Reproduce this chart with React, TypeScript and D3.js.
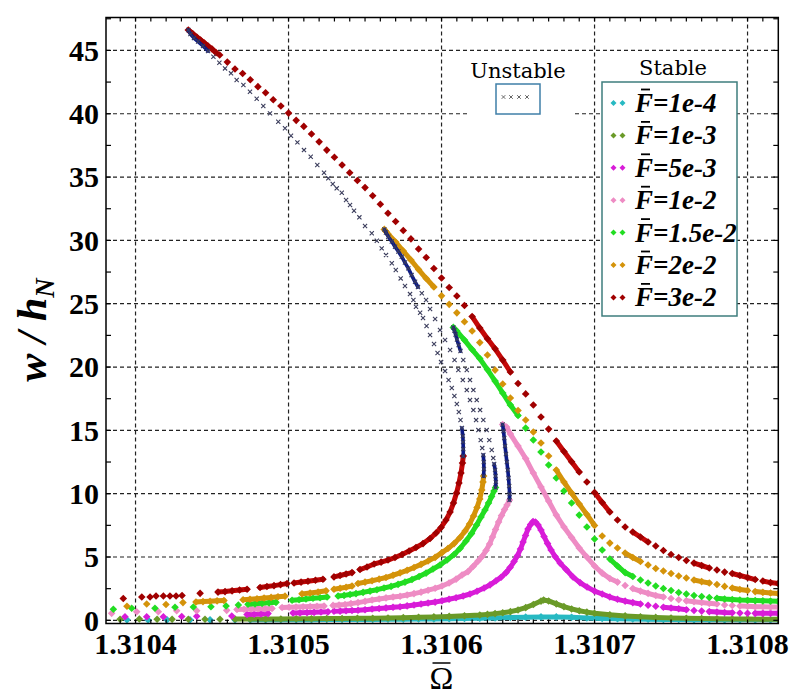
import React from "react";
import * as d3 from "d3";

type Pt = [number, number];

// ---- axis ticks ----
const xTickValues = [1.3104, 1.3105, 1.3106, 1.3107, 1.3108];
const yTickValues = [0, 5, 10, 15, 20, 25, 30, 35, 40, 45];

// ---- forcing levels (legend order) ----
const forceLabels = ["1e-4", "1e-3", "5e-3", "1e-2", "1.5e-2", "2e-2", "3e-2"];
const seriesColors = ["#27b9c2", "#6a9a28", "#d81cd8", "#ee8cc4", "#22dd22", "#d4930a", "#a00000"];

// ---- F = 1e-4 ----
const f01Stable: Pt[] = [
  [1.3103944, 0.04], [1.3104082, 0.03], [1.3104206, 0.04], [1.3104356, 0.04], [1.3104487, 0.04], [1.310465, 0.04],
  [1.310475, 0.04], [1.310485, 0.04], [1.310495, 0.05], [1.310505, 0.05], [1.310515, 0.05], [1.310525, 0.06],
  [1.310535, 0.06], [1.310545, 0.07], [1.310555, 0.07], [1.310565, 0.08], [1.310575, 0.09], [1.310585, 0.1],
  [1.310595, 0.11], [1.310605, 0.12], [1.310615, 0.14], [1.310625, 0.16], [1.310635, 0.19], [1.310645, 0.22],
  [1.310655, 0.25], [1.310665, 0.27], [1.310675, 0.27], [1.310685, 0.24], [1.310695, 0.19], [1.310705, 0.15],
  [1.310715, 0.12], [1.310725, 0.1], [1.310735, 0.08], [1.310745, 0.07], [1.310755, 0.06], [1.310765, 0.05],
  [1.310775, 0.05], [1.310785, 0.04], [1.310795, 0.04], [1.310805, 0.04], [1.310815, 0.04], [1.31082, 0.04],
];
const f01Bands: Pt[] = [[1.310474, 1.310821]];

// ---- F = 1e-3 ----
const f1Stable: Pt[] = [
  [1.3103899, 0.08], [1.3104025, 0.1], [1.3104141, 0.08], [1.3104239, 0.09], [1.3104345, 0.09], [1.3104454, 0.09],
  [1.3104552, 0.09], [1.310465, 0.1], [1.310475, 0.1], [1.310485, 0.11], [1.310495, 0.11], [1.310505, 0.12],
  [1.310515, 0.13], [1.310525, 0.14], [1.310535, 0.15], [1.310545, 0.16], [1.310555, 0.17], [1.310565, 0.19],
  [1.310575, 0.21], [1.310585, 0.24], [1.310595, 0.27], [1.310605, 0.31], [1.310615, 0.36], [1.310625, 0.42],
  [1.31063, 0.47], [1.310635, 0.53], [1.31064, 0.6], [1.310645, 0.69], [1.31065, 0.82], [1.310655, 1.0],
  [1.31066, 1.25], [1.310665, 1.52], [1.3106667, 1.6], [1.31067, 1.53], [1.310675, 1.3], [1.31068, 1.08],
  [1.310685, 0.9], [1.31069, 0.76], [1.310695, 0.65], [1.3107, 0.56], [1.31071, 0.44], [1.31072, 0.35],
  [1.31073, 0.28], [1.31074, 0.23], [1.31075, 0.19], [1.31076, 0.16], [1.31077, 0.14], [1.31078, 0.12],
  [1.31079, 0.11], [1.3108, 0.1], [1.31081, 0.09], [1.31082, 0.09],
];
const f1Bands: Pt[] = [[1.310464, 1.310821]];

// ---- F = 5e-3 ----
const f5Stable: Pt[] = [
  [1.3103931, 0.28], [1.3104073, 0.28], [1.3104182, 0.28], [1.3104302, 0.3], [1.31044, 0.32], [1.3104629, 0.34],
  [1.3104729, 0.46], [1.3104775, 0.48], [1.310482, 0.5], [1.3104866, 0.53],
  [1.3105029, 0.58], [1.3105075, 0.59], [1.3105121, 0.61], [1.3105167, 0.63], [1.3105212, 0.66], [1.3105258, 0.67],
  [1.3105297, 0.72], [1.3105337, 0.73], [1.3105376, 0.76], [1.3105415, 0.78],
  [1.3105454, 0.8], [1.31055, 0.84], [1.3105546, 0.89], [1.3105592, 0.94], [1.3105637, 0.98], [1.3105683, 1.03],
  [1.3105729, 1.07], [1.3105775, 1.14], [1.310582, 1.21], [1.3105866, 1.29], [1.3105912, 1.37], [1.3105958, 1.44],
  [1.3106003, 1.55], [1.3106049, 1.67], [1.3106095, 1.78], [1.3106141, 1.92], [1.3106186, 2.08], [1.3106232, 2.3],
  [1.3106278, 2.55], [1.3106317, 2.8], [1.3106356, 3.12], [1.3106389, 3.4], [1.3106422, 3.77], [1.3106448, 4.17],
  [1.3106474, 4.64], [1.3106497, 5.12], [1.3106516, 5.63], [1.3106533, 6.18], [1.3106549, 6.7], [1.3106565, 7.21],
  [1.3106582, 7.56], [1.3106598, 7.8], [1.3106614, 7.76], [1.3106631, 7.52], [1.310665, 7.13], [1.310667, 6.62],
  [1.3106693, 6.06], [1.3106716, 5.55], [1.3106742, 5.04], [1.3106775, 4.52], [1.3106814, 4.01], [1.3106859, 3.42],
  [1.3106905, 2.98], [1.3106951, 2.63], [1.3107, 2.31], [1.310705, 2.08], [1.31071, 1.84], [1.310715, 1.66],
  [1.31072, 1.52], [1.310725, 1.4], [1.31073, 1.29], [1.310735, 1.19], [1.31074, 1.11], [1.310745, 1.03],
  [1.31075, 0.97], [1.310755, 0.91], [1.31076, 0.84], [1.310765, 0.78], [1.31077, 0.73], [1.310775, 0.69],
  [1.31078, 0.66], [1.310785, 0.62], [1.31079, 0.6], [1.310795, 0.58], [1.3108, 0.56], [1.310805, 0.55],
  [1.31081, 0.55], [1.310815, 0.55], [1.31082, 0.55],
];
const f5Bands: Pt[] = [[1.3104725, 1.310487], [1.3105025, 1.310526], [1.3105295, 1.310731], [1.310744, 1.310761], [1.310774, 1.310791], [1.310804, 1.310821]];

// ---- F = 1e-2 ----
const f10Upper: Pt[] = [
  [1.3106399, 15.46], [1.3106425, 15.26], [1.310645, 14.71], [1.31065, 13.76], [1.310655, 12.78], [1.31066, 11.63],
  [1.310665, 10.53], [1.31067, 9.42], [1.310675, 8.31], [1.31068, 7.37], [1.310685, 6.54], [1.31069, 5.71],
  [1.310695, 5.0], [1.3107, 4.29], [1.310705, 3.73], [1.31071, 3.3], [1.310715, 3.02], [1.31072, 2.75],
  [1.310725, 2.51], [1.31073, 2.31], [1.310735, 2.13], [1.31074, 1.96], [1.310745, 1.84], [1.31075, 1.72],
  [1.310755, 1.62], [1.31076, 1.54], [1.310765, 1.47], [1.31077, 1.41], [1.310775, 1.34], [1.31078, 1.29],
  [1.310785, 1.22], [1.31079, 1.17], [1.310795, 1.13], [1.3108, 1.11], [1.310805, 1.08], [1.31081, 1.07],
  [1.310815, 1.05], [1.31082, 1.05],
];
const f10UpperBands: Pt[] = [[1.310639, 1.310716], [1.310724, 1.310746], [1.310759, 1.310781], [1.310794, 1.310821]];
const f10Lower: Pt[] = [
  [1.3103844, 0.55], [1.3104008, 0.68], [1.3104149, 0.68], [1.3104269, 0.76], [1.31044, 0.76], [1.3104596, 0.79],
  [1.3104663, 0.85], [1.3104709, 0.87], [1.3104755, 0.89], [1.3104801, 0.91], [1.3104846, 0.92], [1.3104892, 0.94],
  [1.3104958, 1.01], [1.3105003, 1.03], [1.3105049, 1.05], [1.3105095, 1.07], [1.3105141, 1.09], [1.3105186, 1.11],
  [1.3105232, 1.13], [1.3105291, 1.18], [1.310533, 1.21], [1.3105369, 1.25], [1.3105408, 1.32],
  [1.3105454, 1.4], [1.31055, 1.5], [1.3105546, 1.6], [1.3105592, 1.69], [1.3105637, 1.77], [1.3105683, 1.84],
  [1.3105729, 1.9], [1.3105775, 2.0], [1.310582, 2.11], [1.3105866, 2.23], [1.3105912, 2.38], [1.3105958, 2.53],
  [1.3106003, 2.71], [1.3106049, 2.95], [1.3106095, 3.25], [1.3106134, 3.58], [1.3106173, 3.85], [1.3106206, 4.25],
  [1.3106239, 4.68], [1.3106265, 5.04], [1.3106291, 5.51], [1.3106314, 6.02], [1.3106333, 6.58], [1.3106353, 7.17],
  [1.3106373, 7.76], [1.3106392, 8.27], [1.3106412, 8.75], [1.3106428, 9.1], [1.3106444, 9.5],
];
const f10LowerBands: Pt[] = [[1.310466, 1.3104895], [1.3104955, 1.3105235], [1.3105288, 1.3106445]];
const f10Unstable: Pt[] = [
  [1.3106444, 9.5], [1.3106445, 9.97], [1.3106442, 10.6], [1.3106438, 11.24], [1.3106433, 11.87], [1.3106427, 12.5],
  [1.3106421, 13.13], [1.3106415, 13.76], [1.310641, 14.4], [1.3106405, 14.95], [1.3106399, 15.46],
];
const f10Navy: Pt[] = [[9.4, 15.5]];

// ---- F = 1.5e-2 ----
const f15Upper: Pt[] = [
  [1.3106077, 23.13], [1.31061, 22.84], [1.310615, 22.13], [1.31062, 21.38], [1.310625, 20.67], [1.31063, 19.8],
  [1.310635, 18.89], [1.31064, 17.95], [1.310645, 17.0], [1.31065, 16.17], [1.310655, 15.18], [1.31066, 14.24],
  [1.310665, 13.29], [1.31067, 12.26], [1.310675, 11.24], [1.31068, 10.21], [1.310685, 9.26], [1.31069, 8.31],
  [1.310695, 7.37], [1.3107, 6.42], [1.310705, 5.55], [1.31071, 4.84], [1.310715, 4.29], [1.31072, 3.77],
  [1.310725, 3.46], [1.31073, 3.18], [1.310735, 2.95], [1.31074, 2.71], [1.310745, 2.51], [1.31075, 2.35],
  [1.310755, 2.2], [1.31076, 2.08], [1.310765, 1.96], [1.31077, 1.88], [1.310775, 1.8], [1.31078, 1.74],
  [1.310785, 1.68], [1.31079, 1.64], [1.310795, 1.6], [1.3108, 1.58], [1.310805, 1.56], [1.31081, 1.54],
  [1.310815, 1.52], [1.31082, 1.51],
];
const f15UpperBands: Pt[] = [[1.310607, 1.310651], [1.310709, 1.310726], [1.310779, 1.310821]];
const f15Lower: Pt[] = [
  [1.3103855, 0.87], [1.3103975, 0.95], [1.3104127, 0.95], [1.3104258, 1.03], [1.3104378, 1.05], [1.3104493, 1.07],
  [1.3104592, 1.13], [1.3104672, 1.21], [1.3104735, 1.27], [1.3104781, 1.3], [1.3104827, 1.34], [1.3104873, 1.38],
  [1.3104918, 1.42], [1.3105023, 1.58], [1.3105069, 1.63], [1.3105114, 1.68], [1.310516, 1.74], [1.3105206, 1.78],
  [1.3105252, 1.84], [1.3105324, 1.92], [1.3105363, 1.97], [1.3105402, 2.04], [1.3105441, 2.11],
  [1.3105487, 2.21], [1.3105533, 2.31], [1.3105578, 2.42], [1.3105624, 2.55], [1.310567, 2.68], [1.3105716, 2.84],
  [1.3105761, 3.02], [1.3105807, 3.22], [1.3105853, 3.46], [1.3105899, 3.73], [1.3105944, 4.05], [1.310599, 4.37],
  [1.3106036, 4.76], [1.3106082, 5.2], [1.3106121, 5.67], [1.310616, 6.26], [1.3106196, 6.85], [1.3106229, 7.52],
  [1.3106258, 8.16], [1.3106284, 8.71], [1.3106307, 9.26], [1.3106327, 9.77], [1.3106343, 10.21], [1.3106353, 10.49],
];
const f15LowerBands: Pt[] = [[1.310473, 1.310492], [1.310502, 1.3105255], [1.310532, 1.3106355]];
const f15Unstable: Pt[] = [
  [1.3106353, 10.49], [1.3106355, 10.92], [1.3106353, 11.39], [1.310635, 11.87], [1.3106344, 12.34], [1.3106338, 12.81],
  [1.3106328, 13.45], [1.3106312, 14.23], [1.3106295, 15.02], [1.3106273, 15.82], [1.3106252, 16.6], [1.310623, 17.39],
  [1.3106208, 18.18], [1.3106186, 18.97], [1.3106165, 19.76], [1.3106142, 20.55], [1.3106124, 21.26], [1.3106112, 21.74],
  [1.3106101, 22.17], [1.3106092, 22.57], [1.3106084, 22.88], [1.3106077, 23.13],
];
const f15Navy: Pt[] = [[10.4, 12.5], [21.0, 23.2]];

// ---- F = 2e-2 ----
const f20Upper: Pt[] = [
  [1.3105626, 30.87], [1.3105637, 30.7], [1.310565, 30.5], [1.31057, 29.87], [1.310575, 29.16], [1.31058, 28.45],
  [1.310585, 27.7], [1.31059, 26.99], [1.310595, 26.32], [1.3106, 25.62], [1.310605, 24.95], [1.31061, 24.28],
  [1.310615, 23.58], [1.31062, 22.84], [1.310625, 21.93], [1.31063, 20.95], [1.310635, 19.76], [1.31064, 18.66],
  [1.310645, 17.55], [1.31065, 16.57], [1.310655, 15.82], [1.31066, 14.87], [1.310665, 14.0], [1.31067, 12.97],
  [1.310675, 11.87], [1.31068, 10.92], [1.310685, 10.05], [1.31069, 9.18], [1.310695, 8.35], [1.3107, 7.49],
  [1.310705, 6.66], [1.31071, 6.1], [1.310715, 5.71], [1.31072, 5.31], [1.310725, 4.96], [1.31073, 4.64],
  [1.310735, 4.37], [1.31074, 4.09], [1.310745, 3.89], [1.31075, 3.7], [1.310755, 3.5], [1.31076, 3.34],
  [1.310765, 3.18], [1.31077, 3.06], [1.310775, 2.95], [1.31078, 2.83], [1.310785, 2.68], [1.31079, 2.55],
  [1.310795, 2.43], [1.3108, 2.35], [1.310805, 2.27], [1.31081, 2.21], [1.310815, 2.16], [1.31082, 2.12],
];
const f20UpperBands: Pt[] = [[1.310562, 1.310596], [1.310674, 1.310701], [1.310719, 1.310731], [1.310764, 1.310776], [1.310789, 1.310801], [1.310804, 1.310821]];
const f20Lower: Pt[] = [
  [1.3103944, 1.11], [1.3104073, 1.29], [1.3104199, 1.25], [1.310431, 1.4], [1.3104395, 1.45], [1.3104441, 1.48],
  [1.3104487, 1.51], [1.3104533, 1.54], [1.3104578, 1.57], [1.3104703, 1.63], [1.3104748, 1.67], [1.3104794, 1.71],
  [1.310484, 1.76], [1.3104886, 1.81], [1.3104931, 1.86], [1.3104977, 1.91], [1.3105088, 2.09], [1.3105141, 2.16],
  [1.3105193, 2.23], [1.3105245, 2.33], [1.3105297, 2.45], [1.3105337, 2.53], [1.3105376, 2.61], [1.3105415, 2.71],
  [1.3105454, 2.91], [1.31055, 3.02], [1.3105546, 3.13], [1.3105592, 3.25], [1.3105637, 3.38], [1.3105683, 3.56],
  [1.3105729, 3.75], [1.3105775, 3.95], [1.310582, 4.17], [1.3105866, 4.42], [1.3105912, 4.68], [1.3105958, 4.97],
  [1.3106003, 5.35], [1.3106042, 5.67], [1.3106082, 6.06], [1.3106121, 6.54], [1.3106154, 7.05], [1.3106183, 7.6],
  [1.3106209, 8.24], [1.3106232, 8.91], [1.310625, 9.58], [1.3106263, 10.29], [1.3106271, 10.92], [1.3106275, 11.39],
];
const f20LowerBands: Pt[] = [[1.310439, 1.310458], [1.31047, 1.310498], [1.3105085, 1.310525], [1.3105295, 1.310542], [1.310545, 1.310628]];
const f20Unstable: Pt[] = [
  [1.3106275, 11.39], [1.3106277, 11.95], [1.3106276, 12.5], [1.3106273, 13.05], [1.3106266, 13.6], [1.3106256, 14.23],
  [1.3106241, 15.02], [1.3106226, 15.81], [1.3106208, 16.6], [1.3106186, 17.39], [1.3106165, 18.18], [1.3106139, 18.97],
  [1.310611, 19.76], [1.3106085, 20.55], [1.3106056, 21.34], [1.3106023, 22.13], [1.310599, 22.92], [1.3105958, 23.79],
  [1.3105925, 24.58], [1.3105899, 25.29], [1.3105871, 25.82], [1.3105846, 26.32], [1.3105827, 26.73], [1.3105804, 27.26],
  [1.3105783, 27.79], [1.3105761, 28.25], [1.310574, 28.71], [1.3105718, 29.12], [1.3105696, 29.5], [1.3105675, 29.91],
  [1.3105652, 30.29], [1.3105637, 30.62], [1.3105626, 30.87],
];
const f20Navy: Pt[] = [[11.3, 13.1], [26.0, 30.9]];

// ---- F = 3e-2 ----
const f30Upper: Pt[] = [
  [1.3104345, 46.61], [1.3104373, 46.33], [1.31044, 46.06], [1.3104425, 45.82], [1.310445, 45.58], [1.3104474, 45.35],
  [1.31045, 45.11], [1.3104526, 44.83], [1.310455, 44.64], [1.31046, 44.08], [1.310465, 43.53], [1.31047, 43.18],
  [1.310475, 42.69], [1.31048, 42.14], [1.310485, 41.66], [1.31049, 41.1], [1.310495, 40.61], [1.3105, 40.05],
  [1.310505, 39.48], [1.31051, 39.0], [1.310515, 38.4], [1.31052, 37.78], [1.310525, 37.13], [1.31053, 36.56],
  [1.310535, 35.95], [1.31054, 35.34], [1.310545, 34.73], [1.31055, 34.17], [1.310555, 33.52], [1.31056, 32.85],
  [1.310565, 32.14], [1.31057, 31.49], [1.310575, 30.78], [1.31058, 30.12], [1.310585, 29.32], [1.31059, 28.65],
  [1.310595, 27.78], [1.3106, 27.03], [1.310605, 26.28], [1.31061, 25.61], [1.310615, 24.86], [1.31062, 23.99],
  [1.310625, 23.08], [1.31063, 22.23], [1.310635, 21.44], [1.31064, 20.55], [1.310645, 19.61], [1.31065, 18.7],
  [1.310655, 17.88], [1.31066, 17.0], [1.310665, 16.05], [1.31067, 15.1], [1.310675, 14.16], [1.31068, 13.33],
  [1.310685, 12.52], [1.31069, 11.71], [1.310695, 10.92], [1.3107, 10.09], [1.310705, 9.3], [1.31071, 8.55],
  [1.310715, 7.92], [1.31072, 7.37], [1.310725, 6.97], [1.31073, 6.58], [1.310735, 6.18], [1.31074, 5.87],
  [1.310745, 5.51], [1.31075, 5.2], [1.310755, 4.96], [1.31076, 4.72], [1.310765, 4.52], [1.31077, 4.33],
  [1.310775, 4.13], [1.31078, 3.97], [1.310785, 3.81], [1.31079, 3.7], [1.310795, 3.54], [1.3108, 3.38],
  [1.310805, 3.22], [1.31081, 3.1], [1.310815, 2.98], [1.31082, 2.91],
];
const f30UpperBands: Pt[] = [[1.310434, 1.310453], [1.310619, 1.310646], [1.310674, 1.310691], [1.310699, 1.310711], [1.310724, 1.310736], [1.310764, 1.310776], [1.310789, 1.310806], [1.310809, 1.310821]];
const f30Lower: Pt[] = [
  [1.310392, 1.72], [1.3104041, 1.84], [1.3104095, 1.84], [1.3104134, 1.92], [1.3104182, 1.92], [1.3104225, 1.92],
  [1.3104265, 1.92], [1.3104304, 1.96], [1.3104422, 2.13], [1.3104539, 2.23], [1.3104585, 2.27], [1.3104631, 2.33],
  [1.310468, 2.39], [1.3104729, 2.45], [1.3104814, 2.59], [1.3104859, 2.67], [1.3104905, 2.74], [1.3104948, 2.82],
  [1.310499, 2.9], [1.3105036, 2.95], [1.3105082, 3.02], [1.3105127, 3.09], [1.3105176, 3.16], [1.3105225, 3.24],
  [1.3105297, 3.43], [1.3105337, 3.54], [1.3105376, 3.66], [1.3105415, 3.77], [1.3105467, 4.01], [1.3105513, 4.21],
  [1.3105559, 4.45], [1.3105605, 4.6], [1.310565, 4.76], [1.3105696, 4.96], [1.3105742, 5.2], [1.3105788, 5.47],
  [1.3105833, 5.75], [1.3105879, 6.06], [1.3105925, 6.46], [1.3105964, 6.89], [1.3105997, 7.33], [1.3106029, 7.92],
  [1.3106056, 8.55], [1.3106078, 9.26], [1.3106098, 10.05], [1.3106114, 10.84], [1.3106127, 11.63], [1.3106137, 12.42],
  [1.3106142, 12.97],
];
const f30LowerBands: Pt[] = [[1.3104535, 1.3104735], [1.310481, 1.3104995], [1.310503, 1.310523], [1.310529, 1.310542], [1.310546, 1.3106145]];
const f30Unstable: Pt[] = [
  [1.3106142, 12.97], [1.3106142, 13.53], [1.3106141, 14.08], [1.3106139, 14.55], [1.3106133, 15.18], [1.3106124, 15.82],
  [1.3106113, 16.45], [1.31061, 17.08], [1.3106084, 17.71], [1.3106067, 18.34], [1.3106046, 18.98], [1.3106023, 19.68],
  [1.3105997, 20.39], [1.3105974, 21.11], [1.3105951, 21.82], [1.3105925, 22.53], [1.3105902, 23.24], [1.3105879, 23.87],
  [1.310586, 24.29], [1.3105833, 24.76], [1.3105816, 25.29], [1.3105794, 25.76], [1.3105761, 26.4], [1.3105733, 27.0],
  [1.3105701, 27.66], [1.3105675, 28.19], [1.3105637, 28.84], [1.3105609, 29.37], [1.3105577, 29.97], [1.3105544, 30.56],
  [1.31055, 31.13], [1.3105463, 31.82], [1.3105428, 32.34], [1.3105402, 32.79], [1.3105376, 33.19], [1.3105348, 33.76],
  [1.3105315, 34.11], [1.3105289, 34.45], [1.310526, 34.9], [1.3105232, 35.34], [1.3105188, 35.95], [1.3105145, 36.6],
  [1.3105101, 37.13], [1.3105058, 37.74], [1.3105016, 38.26], [1.3104977, 38.85], [1.3104933, 39.37], [1.3104879, 40.03],
  [1.3104835, 40.61], [1.3104792, 41.18], [1.3104748, 41.74], [1.3104705, 42.27], [1.3104661, 42.66], [1.3104624, 43.19],
  [1.3104585, 43.58], [1.3104548, 44.03], [1.3104509, 44.5], [1.3104474, 44.95], [1.3104441, 45.35], [1.3104409, 45.7],
  [1.3104382, 45.98], [1.3104359, 46.29], [1.3104345, 46.61],
];
const f30Navy: Pt[] = [[12.9, 15.3], [44.9, 46.7]];

// ---- chart assembly ----
interface Branch { pts: Pt[]; bands: Pt[] }
interface Curve { color: string; bandColor: string; stable: Branch[]; unstable?: { pts: Pt[]; navy: Pt[] } }

const curves: Curve[] = [
  { color: seriesColors[0], bandColor: seriesColors[0], stable: [{ pts: f01Stable, bands: f01Bands }] },
  { color: seriesColors[1], bandColor: seriesColors[1], stable: [{ pts: f1Stable, bands: f1Bands }] },
  { color: seriesColors[2], bandColor: seriesColors[2], stable: [{ pts: f5Stable, bands: f5Bands }] },
  {
    color: seriesColors[3], bandColor: seriesColors[3],
    stable: [{ pts: f10Lower, bands: f10LowerBands }, { pts: f10Upper, bands: f10UpperBands }],
    unstable: { pts: f10Unstable, navy: f10Navy },
  },
  {
    color: seriesColors[4], bandColor: seriesColors[4],
    stable: [{ pts: f15Lower, bands: f15LowerBands }, { pts: f15Upper, bands: f15UpperBands }],
    unstable: { pts: f15Unstable, navy: f15Navy },
  },
  {
    color: seriesColors[5], bandColor: seriesColors[5],
    stable: [{ pts: f20Lower, bands: f20LowerBands }, { pts: f20Upper, bands: f20UpperBands }],
    unstable: { pts: f20Unstable, navy: f20Navy },
  },
  {
    color: seriesColors[6], bandColor: "#c40808",
    stable: [{ pts: f30Lower, bands: f30LowerBands }, { pts: f30Upper, bands: f30UpperBands }],
    unstable: { pts: f30Unstable, navy: f30Navy },
  },
];

const W = 789;
const H = 697;
const PL = 106;
const PR = 778.3;
const PT = 17.5;
const PB = 623.5;

const diamond = (r: number) => `M0,${-r}L${r},0L0,${r}L${-r},0Z`;
const cross = (r: number) => `M${-r},${-r}L${r},${r}M${-r},${r}L${r},${-r}`;

export default function App() {
  const x = d3.scaleLinear().domain([1.3103807, 1.3108201]).range([PL, PR]);
  const y = d3.scaleLinear().domain([-0.25, 47.6]).range([PB, PT]);
  const line = d3.line<Pt>().x((d) => x(d[0])).y((d) => y(d[1]));

  const xMinor = d3.range(-1, 43).map((i) => 1.3104 + i * 1e-5).filter((v) => x(v) > PL + 1 && x(v) < PR - 1);
  const yMinor = d3.range(0, 48, 2.5);

  const serif = "'Liberation Serif', 'Times New Roman', serif";

  return (
    <svg width={W} height={H} style={{ position: "absolute", left: 0, top: 0, background: "#fff" }}>
      <defs>
        <clipPath id="plotClip">
          <rect x={PL} y={PT} width={PR - PL} height={PB - PT} />
        </clipPath>
      </defs>
      <rect x={0} y={0} width={W} height={H} fill="#fff" />

      {/* grid */}
      <g stroke="#222" strokeWidth={1.2} strokeDasharray="4,3">
        {xTickValues.map((v) => (
          <line key={"gx" + v} x1={x(v)} x2={x(v)} y1={PT} y2={PB} />
        ))}
        {yTickValues.map((v) => (
          <line key={"gy" + v} x1={PL} x2={PR} y1={y(v)} y2={y(v)} />
        ))}
      </g>

      {/* curves */}
      <g clipPath="url(#plotClip)">
        {curves.map((c, ci) => (
          <g key={"c" + ci}>
            {c.stable.map((b, bi) => (
              <g key={"b" + bi}>
                {b.bands.map((r, ri) => {
                  const seg = b.pts.filter((p) => p[0] >= r[0] && p[0] <= r[1]);
                  return seg.length > 1 ? (
                    <path key={"r" + ri} d={line(seg) || ""} fill="none" stroke={c.bandColor}
                      strokeWidth={5} strokeLinejoin="round" strokeLinecap="round" />
                  ) : null;
                })}
                {b.pts.map((p, pi) => (
                  <path key={pi} d={diamond(3.8)} transform={`translate(${x(p[0])},${y(p[1])})`} fill={c.color} />
                ))}
              </g>
            ))}
          </g>
        ))}
        {curves.map((c, ci) =>
          c.unstable ? (
            <g key={"u" + ci}>
              {c.unstable.navy.map((r, ri) => {
                const seg = c.unstable!.pts.filter((p) => p[1] >= r[0] && p[1] <= r[1]);
                return seg.length > 1 ? (
                  <path key={"n" + ri} d={line(seg) || ""} fill="none" stroke="#0b1a86"
                    strokeWidth={3.6} strokeLinejoin="round" strokeLinecap="round" />
                ) : null;
              })}
              {c.unstable.pts.map((p, pi) => (
                <path key={pi} d={cross(2.1)} transform={`translate(${x(p[0])},${y(p[1])})`}
                  stroke="#3b3d5c" strokeWidth={1.1} fill="none" />
              ))}
            </g>
          ) : null
        )}
      </g>

      {/* frame and ticks */}
      <rect x={PL} y={PT} width={PR - PL} height={PB - PT} fill="none" stroke="#000" strokeWidth={1.5} />
      <g stroke="#000" strokeWidth={1.2}>
        {yMinor.map((v) => (
          <g key={"ty" + v}>
            <line x1={PL} x2={PL + 5} y1={y(v)} y2={y(v)} />
            <line x1={PR} x2={PR - 5} y1={y(v)} y2={y(v)} />
          </g>
        ))}
        {xMinor.map((v, i) => (
          <g key={"tx" + i}>
            <line x1={x(v)} x2={x(v)} y1={PB} y2={PB - 4} />
            <line x1={x(v)} x2={x(v)} y1={PT} y2={PT + 4} />
          </g>
        ))}
      </g>

      {/* tick labels */}
      <g fontFamily={serif} fontWeight="bold" fontSize={30} fill="#000">
        {yTickValues.map((v) => (
          <text key={"ly" + v} x={PL - 7} y={y(v)} dy="0.34em" textAnchor="end">{v}</text>
        ))}
        {xTickValues.map((v) => (
          <text key={"lx" + v} x={x(v)} y={654} textAnchor="middle">{v.toFixed(4)}</text>
        ))}
      </g>

      {/* axis titles */}
      <text transform="translate(46,330) rotate(-90)" textAnchor="middle" fontFamily={serif}
        fontWeight="bold" fontStyle="italic" fontSize={42} fill="#000">
        <tspan>w / h</tspan>
        <tspan fontSize={27} dy={8}>N</tspan>
      </text>
      <line x1={432.5} x2={450.5} y1={663} y2={663} stroke="#000" strokeWidth={1.5} />
      <text x={441.5} y={689} textAnchor="middle" fontFamily={serif} fontSize={32} fill="#000">Ω</text>

      {/* legend: unstable */}
      <rect x={467} y={53} width={106} height={65} fill="#fff" />
      <text x={518} y={78} textAnchor="middle" fontFamily="'DejaVu Serif', serif" fontSize={21} fill="#000">Unstable</text>
      <rect x={496} y={84} width={44} height={30} fill="#fff" stroke="#3f7fa8" strokeWidth={1.5} />
      {[503.5, 511, 519, 527].map((cx) => (
        <path key={"lu" + cx} d={cross(1.8)} transform={`translate(${cx},${97})`} stroke="#666" strokeWidth={1} fill="none" />
      ))}

      {/* legend: stable */}
      <text x={673} y={75} textAnchor="middle" fontFamily="'DejaVu Serif', serif" fontSize={21} fill="#000">Stable</text>
      <rect x={602} y={82} width={135} height={234} fill="#fff" stroke="#3e7d7d" strokeWidth={1.5} />
      {forceLabels.map((lab, i) => {
        const cy = 103 + i * 32.4;
        return (
          <g key={"lg" + lab}>
            <path d={diamond(3)} transform={`translate(613.5,${cy})`} fill={seriesColors[i]} />
            <path d={diamond(3)} transform={`translate(622.5,${cy})`} fill={seriesColors[i]} />
            <text x={635} y={cy + 9} fontFamily={serif} fontWeight="bold" fontStyle="italic" fontSize={27} fill="#000">
              F={lab}
            </text>
            <line x1={641} x2={650} y1={cy - 13.5} y2={cy - 13.5} stroke="#000" strokeWidth={1.8} />
          </g>
        );
      })}
    </svg>
  );
}
